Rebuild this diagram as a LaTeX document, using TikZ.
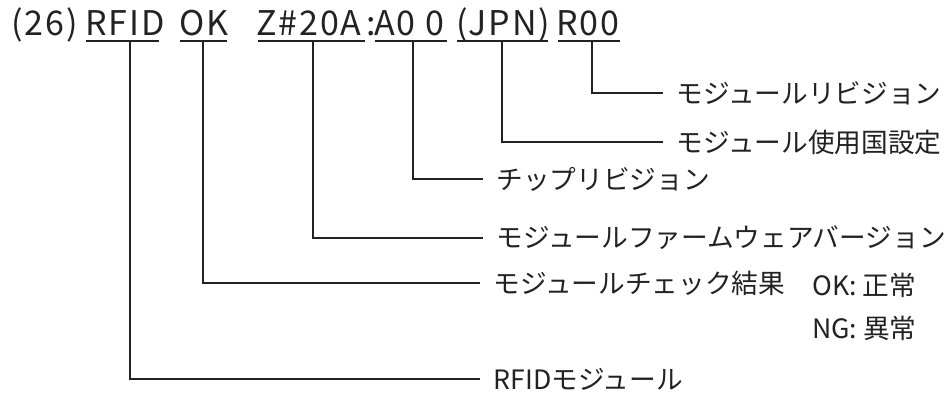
\documentclass[tikz,border=0pt]{standalone}
\usepackage{fontspec}
\setmainfont{Noto Sans CJK JP}
\newfontfamily\titlefont[LetterSpace=5.5]{Noto Sans CJK JP}
\definecolor{ink}{HTML}{222222}
\begin{document}
\begin{tikzpicture}[x=0.75pt,y=-0.75pt,
  ttl/.style={anchor=base west, inner sep=0pt, font=\titlefont\fontsize{25.5}{29}\selectfont, text=ink},
  lbl/.style={anchor=west, inner xsep=10pt, inner ysep=0pt, font=\fontsize{20}{24}\selectfont, text=ink},
  val/.style={anchor=west, inner sep=0pt, font=\fontsize{20}{24}\selectfont, text=ink},
  conn/.style={draw=ink, line width=1.1pt},
  uline/.style={draw=ink, line width=1.1pt}]
\useasboundingbox (0,0) rectangle (948,398);
% title pieces
\node[ttl] (t26)  at (11,36)  {(26)};
\node[ttl] (trfid) at (85,36) {RFID};
\node[ttl] (tok)  at (179,36) {OK};
\node[ttl] (tz)   at (256,36) {Z\#20A};
\node[ttl] (tcol) at (366,36) {:};
\node[ttl] (ta0)  at (374,36) {A0 0};
\node[ttl] (tjpn) at (456,36) {(JPN)};
\node[ttl] (tr00) at (556,36) {R00};
% underlines
\draw[uline] (86,41) -- (159,41);
\draw[uline] (180,41) -- (227,41);
\draw[uline] (258,41) -- (365,41);
\draw[uline] (375,41) -- (447,41);
\draw[uline] (457,41) -- (548,41);
\draw[uline] (558,41) -- (620,41);
% connector start points
\coordinate (u-rfid) at (130,41);
\coordinate (u-ok)   at (203,41);
\coordinate (u-z)    at (313,41);
\coordinate (u-a0)   at (413,41);
\coordinate (u-jpn)  at (502,41);
\coordinate (u-r00)  at (592,41);
% labels
\node[lbl] (l-r00)  at (663,93)  {モジュールリビジョン};
\node[lbl] (l-jpn)  at (663,142) {モジュール使用国設定};
\node[lbl] (l-a0)   at (483,179) {チップリビジョン};
\node[lbl] (l-z)    at (483,238) {モジュールファームウェアバージョン};
\node[lbl] (l-ok)   at (480,283) {モジュールチェック結果};
\node[lbl] (l-rfid) at (480,379) {RFIDモジュール};
\node[val] (v-ok) at (812,285) {OK: 正常};
\node[val] (v-ng) at (812,328) {NG: 異常};
% connectors
\draw[conn] (u-r00)  |- (l-r00.west);
\draw[conn] (u-jpn)  |- (l-jpn.west);
\draw[conn] (u-a0)   |- (l-a0.west);
\draw[conn] (u-z)    |- (l-z.west);
\draw[conn] (u-ok)   |- (l-ok.west);
\draw[conn] (u-rfid) |- (l-rfid.west);
\end{tikzpicture}
\end{document}
